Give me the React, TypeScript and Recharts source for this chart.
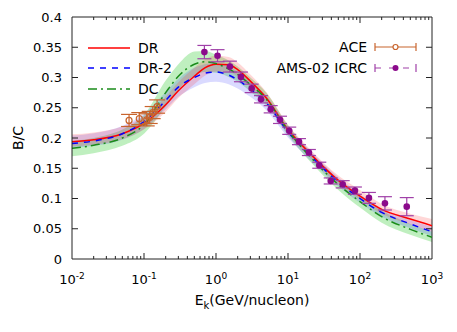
import React from 'react';
import { ComposedChart, XAxis, YAxis, Line, Area, Scatter, ErrorBar, ReferenceLine } from 'recharts';

const FONT = '"DejaVu Sans", sans-serif';
const ACE_C = '#c8642d';
const AMS_C = '#8b0a8b';
const AMS_BAR = '#a040a8';

// model curves, sampled on this energy grid (GeV/nucleon)
const energies = [0.01, 0.02, 0.05, 0.1, 0.2, 0.3, 0.5, 0.7, 1, 1.5, 2, 3, 5, 10, 20, 50, 100, 200, 500, 1000];
const drLine = [0.194, 0.197, 0.207, 0.224, 0.255, 0.278, 0.302, 0.316, 0.322, 0.321, 0.313, 0.294, 0.266, 0.214, 0.175, 0.130, 0.104, 0.082, 0.066, 0.055];
const dr2Line = [0.191, 0.195, 0.207, 0.227, 0.262, 0.284, 0.300, 0.307, 0.309, 0.304, 0.296, 0.281, 0.258, 0.210, 0.172, 0.127, 0.100, 0.077, 0.058, 0.045];
const dcLine = [0.183, 0.188, 0.200, 0.222, 0.275, 0.302, 0.322, 0.326, 0.323, 0.314, 0.305, 0.288, 0.264, 0.212, 0.170, 0.123, 0.095, 0.070, 0.049, 0.036];

const drLow = [0.186, 0.189, 0.198, 0.214, 0.243, 0.266, 0.289, 0.303, 0.310, 0.309, 0.302, 0.284, 0.257, 0.207, 0.168, 0.123, 0.098, 0.075, 0.057, 0.045];
const drHigh = [0.206, 0.209, 0.219, 0.236, 0.268, 0.292, 0.316, 0.330, 0.336, 0.334, 0.325, 0.305, 0.276, 0.222, 0.182, 0.138, 0.114, 0.091, 0.075, 0.066];
const dr2Low = [0.184, 0.187, 0.197, 0.215, 0.247, 0.268, 0.284, 0.291, 0.293, 0.289, 0.282, 0.268, 0.246, 0.201, 0.164, 0.120, 0.093, 0.070, 0.051, 0.038];
const dr2High = [0.204, 0.208, 0.220, 0.240, 0.276, 0.298, 0.316, 0.322, 0.324, 0.318, 0.310, 0.294, 0.270, 0.219, 0.180, 0.135, 0.107, 0.084, 0.065, 0.053];
const dcLow = [0.170, 0.175, 0.187, 0.207, 0.252, 0.280, 0.303, 0.309, 0.308, 0.301, 0.293, 0.277, 0.254, 0.204, 0.162, 0.114, 0.085, 0.060, 0.040, 0.028];
const dcHigh = [0.195, 0.200, 0.214, 0.238, 0.295, 0.322, 0.343, 0.344, 0.338, 0.328, 0.318, 0.300, 0.275, 0.221, 0.178, 0.132, 0.104, 0.080, 0.058, 0.045];

// ACE
const aceE = [0.062, 0.086, 0.109, 0.12, 0.132, 0.152];
const aceBC = [0.229, 0.232, 0.230, 0.234, 0.242, 0.252];
const aceErr = [0.010, 0.010, 0.010, 0.010, 0.010, 0.011];

// AMS-02 ICRC
const amsE = [0.69, 1.05, 1.56, 2.22, 3.13, 4.22, 5.75, 7.74, 10.4, 14.2, 19.5, 27.2, 39.2, 57.5, 85, 133, 222, 446];
const amsBC = [0.342, 0.336, 0.318, 0.301, 0.282, 0.264, 0.2475, 0.230, 0.212, 0.194, 0.176, 0.155, 0.129, 0.1235, 0.113, 0.101, 0.092, 0.0865];
const amsErr = [0.011, 0.010, 0.009, 0.008, 0.007, 0.006, 0.006, 0.006, 0.006, 0.005, 0.005, 0.005, 0.005, 0.006, 0.006, 0.009, 0.011, 0.015];

const xTicks = [0.01, 0.1, 1, 10, 100, 1000];
const yTicks = [0, 0.05, 0.1, 0.15, 0.2, 0.25, 0.3, 0.35, 0.4];

const curves = energies.map((e, i) => ({
  e,
  dr: drLine[i],
  dr2: dr2Line[i],
  dc: dcLine[i],
  drBand: [drLow[i], drHigh[i]],
  dr2Band: [dr2Low[i], dr2High[i]],
  dcBand: [dcLow[i], dcHigh[i]],
}));
const ace = aceE.map((e, i) => ({ e, bc: aceBC[i], err: aceErr[i] }));
const ams = amsE.map((e, i) => ({ e, bc: amsBC[i], err: amsErr[i] }));

// inward ticks on all four sides, gnuplot style
const minorX: number[] = [];
for (let k = -2; k <= 2; k++) for (let m = 2; m <= 9; m++) minorX.push(m * Math.pow(10, k));
const innerMajorX = xTicks.slice(1, -1);
const innerY = yTicks.slice(1, -1);
const FRAME = '#222';

const XTick = (props: any) => {
  const { x, y, payload } = props;
  const exp = Math.round(Math.log10(payload.value));
  return (
    <text x={x} y={y + 17} textAnchor="middle" fontFamily={FONT} fontSize={13} fill="#000">
      10<tspan dy={-5} fontSize={9}>{String(exp)}</tspan>
    </text>
  );
};

const AceDot = (p: any) => <circle cx={p.cx} cy={p.cy} r={3} fill="none" stroke={ACE_C} strokeWidth={1.2} />;
const AmsDot = (p: any) => <circle cx={p.cx} cy={p.cy} r={3.3} fill={AMS_C} />;

const seg = (k: string, a: [number, number], b: [number, number]) => (
  <ReferenceLine key={k} segment={[{ x: a[0], y: a[1] }, { x: b[0], y: b[1] }]} stroke={FRAME} strokeWidth={1} ifOverflow="visible" />
);

const Overlay = () => (
  <svg width={457} height={332} style={{ position: 'absolute', left: 0, top: 0, pointerEvents: 'none' }} fontFamily={FONT}>
    {/* left legend */}
    <line x1={88} y1={48} x2={130} y2={48} stroke="#f00" strokeWidth={1.5} />
    <text x={138} y={53} fontSize={14}>DR</text>
    <line x1={88} y1={68} x2={130} y2={68} stroke="#00f" strokeWidth={1.5} strokeDasharray="6 6" />
    <text x={138} y={73} fontSize={14}>DR-2</text>
    <line x1={88} y1={89} x2={130} y2={89} stroke="#1a8c1a" strokeWidth={1.5} strokeDasharray="9 4 2 4" />
    <text x={138} y={94} fontSize={14}>DC</text>
    {/* right legend */}
    <text x={367} y={52} fontSize={14} textAnchor="end">ACE</text>
    <line x1={375} y1={47} x2={416} y2={47} stroke={ACE_C} strokeWidth={1.2} />
    <line x1={375} y1={43} x2={375} y2={51} stroke={ACE_C} strokeWidth={1.2} />
    <line x1={416} y1={43} x2={416} y2={51} stroke={ACE_C} strokeWidth={1.2} />
    <circle cx={395.5} cy={47} r={2.5} fill="#fff" stroke={ACE_C} strokeWidth={1.2} />
    <text x={367} y={73} fontSize={14} textAnchor="end">AMS-02 ICRC</text>
    <line x1={375} y1={68} x2={416} y2={68} stroke={AMS_BAR} strokeWidth={1.2} strokeDasharray="6 8" />
    <line x1={375} y1={64} x2={375} y2={72} stroke={AMS_BAR} strokeWidth={1.2} />
    <line x1={416} y1={64} x2={416} y2={72} stroke={AMS_BAR} strokeWidth={1.2} />
    <circle cx={395.5} cy={68} r={3} fill={AMS_C} />
    {/* axis titles */}
    <text x={0} y={0} fontSize={14} textAnchor="middle" transform="translate(23,138) rotate(-90)">B/C</text>
    <text x={252} y={305} fontSize={14} textAnchor="middle">
      E<tspan dy={4} fontSize={10}>k</tspan><tspan dy={-4}>(GeV/nucleon)</tspan>
    </text>
  </svg>
);

export default function App() {
  return (
    <div style={{ position: 'absolute', left: 0, top: 0, width: 457, height: 332, background: '#fff' }}>
      <ComposedChart width={457} height={332} data={curves} margin={{ top: 17, right: 25, bottom: 43, left: 32 }}>
        <XAxis
          dataKey="e"
          type="number"
          scale="log"
          domain={[0.01, 1000]}
          allowDataOverflow
          ticks={xTicks}
          tick={<XTick />}
          tickLine={false}
          axisLine={{ stroke: FRAME }}
          height={30}
        />
        <YAxis
          type="number"
          domain={[0, 0.4]}
          ticks={yTicks}
          tickLine={false}
          tickSize={8}
          axisLine={{ stroke: FRAME }}
          width={40}
          tick={{ fontSize: 13, fill: '#000', fontFamily: FONT }}
          tickFormatter={(v: number) => String(v)}
        />
        <ReferenceLine y={0.4} stroke={FRAME} ifOverflow="visible" />
        <ReferenceLine x={1000} stroke={FRAME} ifOverflow="visible" />
        {innerMajorX.map((x) => seg(`bM${x}`, [x, 0], [x, 0.0099]))}
        {innerMajorX.map((x) => seg(`tM${x}`, [x, 0.4], [x, 0.4 - 0.0099]))}
        {minorX.map((x) => seg(`bm${x}`, [x, 0], [x, 0.005]))}
        {minorX.map((x) => seg(`tm${x}`, [x, 0.4], [x, 0.4 - 0.005]))}
        {innerY.map((y) => seg(`l${y}`, [0.01, y], [0.01 * 1.212, y]))}
        {innerY.map((y) => seg(`r${y}`, [1000, y], [1000 / 1.212, y]))}

        <Area dataKey="dcBand" type="monotone" stroke="none" fill="#00c000" fillOpacity={0.25} isAnimationActive={false} />
        <Area dataKey="dr2Band" type="monotone" stroke="none" fill="#3030ff" fillOpacity={0.18} isAnimationActive={false} />
        <Area dataKey="drBand" type="monotone" stroke="none" fill="#ff2020" fillOpacity={0.18} isAnimationActive={false} />

        <Line dataKey="dr" type="monotone" dot={false} stroke="#ff0000" strokeWidth={1.5} isAnimationActive={false} />
        <Line dataKey="dr2" type="monotone" dot={false} stroke="#0000ff" strokeWidth={1.5} strokeDasharray="6 6" isAnimationActive={false} />
        <Line dataKey="dc" type="monotone" dot={false} stroke="#1a8c1a" strokeWidth={1.5} strokeDasharray="9 4 2 4" isAnimationActive={false} />

        <Scatter data={ace} dataKey="bc" shape={<AceDot />} isAnimationActive={false}>
          <ErrorBar dataKey="err" direction="y" width={8} stroke={ACE_C} strokeWidth={1.2} />
        </Scatter>
        <Scatter data={ams} dataKey="bc" shape={<AmsDot />} isAnimationActive={false}>
          <ErrorBar dataKey="err" direction="y" width={7} stroke={AMS_BAR} strokeWidth={1.2} />
        </Scatter>
      </ComposedChart>
      <Overlay />
    </div>
  );
}
